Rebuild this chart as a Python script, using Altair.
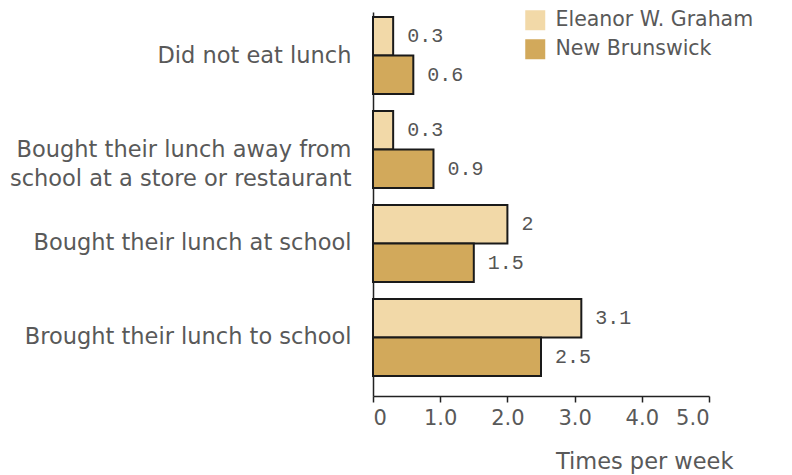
import altair as alt
import pandas as pd

categories = [
    "Did not eat lunch",
    "Bought their lunch away from\nschool at a store or restaurant",
    "Bought their lunch at school",
    "Brought their lunch to school",
]
series = ["Eleanor W. Graham", "New Brunswick"]
eleanor = [0.3, 0.3, 2.0, 3.1]
new_brunswick = [0.6, 0.9, 1.5, 2.5]
value_labels_e = ["0.3", "0.3", "2", "3.1"]
value_labels_n = ["0.6", "0.9", "1.5", "2.5"]
colors = ["#F2D9A8", "#D2A95B"]

rows = []
for i, c in enumerate(categories):
    rows.append({"cat": c, "series": series[0], "value": eleanor[i], "lab": value_labels_e[i]})
    rows.append({"cat": c, "series": series[1], "value": new_brunswick[i], "lab": value_labels_n[i]})
df = pd.DataFrame(rows)

FONT = "DejaVu Sans"
GRAY = "#595959"

y = alt.Y(
    "cat:N",
    sort=categories,
    title=None,
    scale=alt.Scale(paddingInner=0.18, paddingOuter=0.133, align=0.2),
    axis=alt.Axis(
        labelExpr="split(datum.label, '\\n')",
        labelFont=FONT, labelFontSize=22.5, labelColor=GRAY,
        labelLineHeight=29, labelPadding=22, ticks=False,
        domainColor="#222222", domainWidth=1.5, labelLimit=400,
    ),
)
yoff = alt.YOffset("series:N", sort=series, scale=alt.Scale(paddingInner=0, paddingOuter=0))
x = alt.X(
    "value:Q",
    scale=alt.Scale(domain=[0, 5], nice=False),
    axis=alt.Axis(
        values=[0, 0.5, 1, 1.5, 2, 2.5, 3, 3.5, 4, 4.5, 5],
        labelExpr="datum.value % 1 == 0 ? (datum.value == 0 ? '0' : format(datum.value, '.1f')) : ''",
        labelFont=FONT, labelFontSize=21, labelColor=GRAY, labelPadding=5,
        tickSize=6, tickColor="#222222", tickWidth=1.5,
        domainColor="#222222", domainWidth=1.5, grid=False,
        title="Times per week", titleFont=FONT, titleFontSize=22.5,
        titleColor=GRAY, titleFontWeight="normal",
        titleAlign="right", titleAnchor="end", titleX=360, titleY=72,
        titleBaseline="alphabetic",
    ),
)

bars = alt.Chart(df).mark_bar(stroke="#1a1a1a", strokeWidth=2).encode(
    x=x,
    y=y,
    yOffset=yoff,
    color=alt.Color(
        "series:N", sort=series,
        scale=alt.Scale(domain=series, range=colors),
        legend=alt.Legend(
            title=None, orient="none", legendX=152, legendY=-2,
            symbolType="square", symbolSize=400, symbolStrokeWidth=0,
            labelFont=FONT, labelFontSize=20.5, labelColor=GRAY,
            labelOffset=10, rowPadding=8, padding=0, labelLimit=300,
        ),
    ),
)

texts = alt.Chart(df).mark_text(
    align="left", baseline="middle", dx=14, font="Liberation Mono",
    fontSize=20, color="#555555",
).encode(
    x="value:Q",
    y=alt.Y("cat:N", sort=categories),
    yOffset=alt.YOffset("series:N", sort=series),
    text="lab:N",
)

chart = (bars + texts).properties(
    width=336, height=384,
    autosize=alt.AutoSizeParams(type="none"),
    padding={"left": 365, "top": 4, "right": 75, "bottom": 79},
).configure_view(stroke=None)

chart.save("out.html", embed_options={"renderer": "svg", "actions": False})
